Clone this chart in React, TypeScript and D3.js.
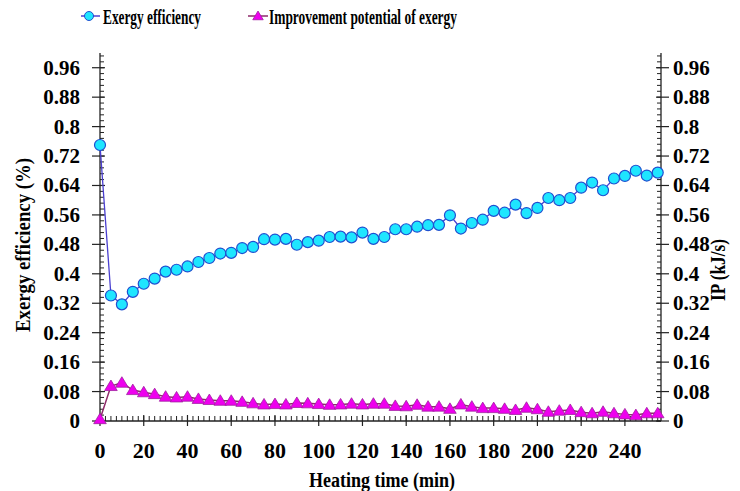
import React from "react";
import * as d3 from "d3";

const times: number[] = d3.range(0, 256, 5);

const exergyEfficiency: number[] = [
  0.75, 0.341, 0.317, 0.351, 0.373, 0.387, 0.406, 0.411, 0.42, 0.432,
  0.443, 0.455, 0.457, 0.47, 0.473, 0.494, 0.493, 0.495, 0.479, 0.486,
  0.49, 0.5, 0.501, 0.499, 0.512, 0.495, 0.5, 0.521, 0.521, 0.528,
  0.532, 0.533, 0.559, 0.523, 0.538, 0.547, 0.571, 0.566, 0.588, 0.565,
  0.579, 0.606, 0.6, 0.606, 0.634, 0.648, 0.627, 0.659, 0.666, 0.68,
  0.667, 0.675,
];

const improvementPotential: number[] = [
  0.005, 0.095, 0.104, 0.084, 0.078, 0.073, 0.066, 0.064, 0.066, 0.06,
  0.057, 0.055, 0.055, 0.052, 0.048, 0.045, 0.046, 0.045, 0.049, 0.048,
  0.046, 0.044, 0.045, 0.047, 0.045, 0.047, 0.047, 0.041, 0.04, 0.044,
  0.039, 0.039, 0.033, 0.045, 0.039, 0.035, 0.035, 0.033, 0.03, 0.036,
  0.032, 0.025, 0.028, 0.03, 0.024, 0.021, 0.025, 0.021, 0.018, 0.016,
  0.021, 0.021,
];

const yTickValues: number[] = [0, 0.08, 0.16, 0.24, 0.32, 0.4, 0.48, 0.56, 0.64, 0.72, 0.8, 0.88, 0.96];
const yTickLabels: string[] = ["0", "0.08", "0.16", "0.24", "0.32", "0.4", "0.48", "0.56", "0.64", "0.72", "0.8", "0.88", "0.96"];
const xTickValues: number[] = [0, 20, 40, 60, 80, 100, 120, 140, 160, 180, 200, 220, 240];
const xTickLabels: string[] = ["0", "20", "40", "60", "80", "100", "120", "140", "160", "180", "200", "220", "240"];

const seriesNames: string[] = ["Exergy efficiency", "Improvement potential of exergy"];
const axisTitles: string[] = ["Heating time (min)", "Exergy efficiency (%)", "IP (kJ/s)"];

const W = 740;
const H = 491;
const left = 100;
const right = 661;
const top = 53;
const bottom = 421;

const FONT = "Liberation Serif";

export default function App() {
  const x = d3.scaleLinear().domain([0, 256.5]).range([left, right]);
  const y = d3.scaleLinear().domain([0, 1]).range([bottom, top]);

  const line = d3
    .line<number>()
    .x((_, i) => x(times[i]))
    .y((d) => y(d));

  const yMinor = d3.range(0, 1.0001, 0.016);
  const xMinor = d3.range(0, 256.5, 2.5);

  const tri = (cx: number, cy: number, s = 6) =>
    `M${cx},${cy - s} L${cx + s * 1.05},${cy + s * 0.75} L${cx - s * 1.05},${cy + s * 0.75} Z`;

  const axisColor = "#222";
  const circleFill = "#1ee6ff";
  const circleStroke = "#1f4fd0";
  const line1Color = "#4a3fd0";
  const triFill = "#ee00ee";
  const triStroke = "#a020a0";
  const line2Color = "#8e2a6a";

  return (
    <svg
      width={W}
      height={H}
      style={{ position: "absolute", left: 0, top: 0, background: "#fff" }}
    >
      <rect x={0} y={0} width={W} height={H} fill="#fff" />

      {/* Legend */}
      <g>
        <line x1={81} x2={100} y1={16} y2={16} stroke={line1Color} strokeWidth={1.5} />
        <circle cx={89} cy={16} r={4.5} fill={circleFill} stroke={circleStroke} strokeWidth={1} />
        <text x={103} y={24} fontFamily={FONT} fontWeight="bold" fontSize={22} textLength={98} lengthAdjust="spacingAndGlyphs">
          {seriesNames[0]}
        </text>
        <line x1={248} x2={268} y1={16} y2={16} stroke={line2Color} strokeWidth={1.5} />
        <path d={tri(258, 16, 5)} fill={triFill} stroke={triStroke} strokeWidth={0.8} />
        <text x={269} y={24} fontFamily={FONT} fontWeight="bold" fontSize={22} textLength={188} lengthAdjust="spacingAndGlyphs">
          {seriesNames[1]}
        </text>
      </g>

      {/* Axes lines */}
      <line x1={left} x2={left} y1={top} y2={bottom} stroke={axisColor} strokeWidth={1.3} />
      <line x1={right} x2={right} y1={top} y2={bottom} stroke={axisColor} strokeWidth={1.3} />
      <line x1={left} x2={right} y1={bottom} y2={bottom} stroke={axisColor} strokeWidth={1.3} />

      {yMinor.map((v, i) => (
        <g key={"ym" + i}>
          <line x1={left} x2={left + 4} y1={y(v)} y2={y(v)} stroke={axisColor} strokeWidth={1} />
          <line x1={right - 4} x2={right} y1={y(v)} y2={y(v)} stroke={axisColor} strokeWidth={1} />
        </g>
      ))}
      {yTickValues.map((v, i) => (
        <g key={"yM" + i}>
          <line x1={left - 8} x2={left + 5} y1={y(v)} y2={y(v)} stroke={axisColor} strokeWidth={1.2} />
          <line x1={right - 5} x2={right + 8} y1={y(v)} y2={y(v)} stroke={axisColor} strokeWidth={1.2} />
          <text x={80} y={y(v) + 7} fontFamily={FONT} fontWeight="bold" fontSize={21} textAnchor="end">
            {yTickLabels[i]}
          </text>
          <text x={673} y={y(v) + 7} fontFamily={FONT} fontWeight="bold" fontSize={21} textAnchor="start">
            {yTickLabels[i]}
          </text>
        </g>
      ))}

      {xMinor.map((v, i) => (
        <line key={"xm" + i} x1={x(v)} x2={x(v)} y1={bottom} y2={bottom - 5} stroke={axisColor} strokeWidth={1} />
      ))}
      {xTickValues.map((v, i) => (
        <g key={"xM" + i}>
          <line x1={x(v)} x2={x(v)} y1={bottom - 6} y2={bottom + 5} stroke={axisColor} strokeWidth={1.2} />
          <text x={x(v)} y={458} fontFamily={FONT} fontWeight="bold" fontSize={22} textAnchor="middle">
            {xTickLabels[i]}
          </text>
        </g>
      ))}

      <text x={382} y={487} fontFamily={FONT} fontWeight="bold" fontSize={20} textAnchor="middle" textLength={146} lengthAdjust="spacingAndGlyphs">
        {axisTitles[0]}
      </text>
      <text
        transform={`translate(30,245) rotate(-90)`}
        fontFamily={FONT}
        fontWeight="bold"
        fontSize={20}
        textAnchor="middle"
        textLength={174}
        lengthAdjust="spacingAndGlyphs"
      >
        {axisTitles[1]}
      </text>
      <text
        transform={`translate(725,270) rotate(-90)`}
        fontFamily={FONT}
        fontWeight="bold"
        fontSize={20}
        textAnchor="middle"
        textLength={62}
        lengthAdjust="spacingAndGlyphs"
      >
        {axisTitles[2]}
      </text>

      <path d={line(improvementPotential) || ""} fill="none" stroke={line2Color} strokeWidth={1.5} />
      {improvementPotential.map((v, i) => (
        <path key={"t" + i} d={tri(x(times[i]), y(v), 6)} fill={triFill} stroke={triStroke} strokeWidth={0.8} />
      ))}

      <path d={line(exergyEfficiency) || ""} fill="none" stroke={line1Color} strokeWidth={1.3} />
      {exergyEfficiency.map((v, i) => (
        <circle key={"c" + i} cx={x(times[i])} cy={y(v)} r={5.5} fill={circleFill} stroke={circleStroke} strokeWidth={1.2} />
      ))}
    </svg>
  );
}
